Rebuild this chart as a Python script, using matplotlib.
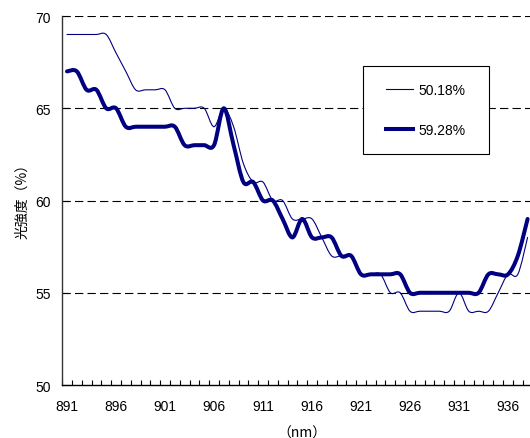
import numpy as np
import matplotlib
matplotlib.use("Agg")
import matplotlib.pyplot as plt
from matplotlib.path import Path
from matplotlib.patches import PathPatch, Rectangle
from matplotlib.lines import Line2D
from matplotlib.ticker import MultipleLocator

plt.rcParams['font.family'] = ['Liberation Sans', 'Noto Sans CJK JP', 'DejaVu Sans']
plt.rcParams['lines.scale_dashes'] = False
cjk = ['Noto Sans CJK JP', 'DejaVu Sans']

# wavelength (nm) and light intensity (%) for the two samples
wavelength = np.arange(891, 939)
intensity_5018 = [69, 69, 69, 69, 69, 68, 67, 66, 66, 66, 66, 65, 65, 65, 65, 64,
                  65, 64, 62, 61, 61, 60, 60, 59, 59, 59, 58, 57, 57, 57, 56, 56,
                  56, 55, 55, 54, 54, 54, 54, 54, 55, 54, 54, 54, 55, 56, 56, 58]
intensity_5928 = [67, 67, 66, 66, 65, 65, 64, 64, 64, 64, 64, 64, 63, 63, 63, 63,
                  65, 63, 61, 61, 60, 60, 59, 58, 59, 58, 58, 58, 57, 57, 56, 56,
                  56, 56, 56, 55, 55, 55, 55, 55, 55, 55, 55, 56, 56, 56, 57, 59]
labels = ['50.18%', '59.28%']
y_ticks = [50, 55, 60, 65, 70]
x_labels = list(range(891, 937, 5))


def smooth_path(xs, ys):
    # cubic bezier through every point (catmull-rom style tangents)
    pts = np.column_stack([xs, ys]).astype(float)
    ext = np.vstack([pts[0], pts, pts[-1]])
    verts = [pts[0]]
    codes = [Path.MOVETO]
    for i in range(len(pts) - 1):
        p0, p1, p2, p3 = ext[i], ext[i + 1], ext[i + 2], ext[i + 3]
        verts += [p1 + (p2 - p0) / 6, p2 - (p3 - p1) / 6, p2]
        codes += [Path.CURVE4] * 3
    return Path(verts, codes)


fig = plt.figure(figsize=(5.30, 4.39), dpi=100)
ax = fig.add_axes([0.1172, 0.1207, 0.8875, 0.8405])

navy = '#000080'
for ys, lw in [(intensity_5018, 0.8), (intensity_5928, 2.9)]:
    ax.add_patch(PathPatch(smooth_path(wavelength, ys), fill=False,
                           edgecolor=navy, lw=lw, capstyle='round',
                           joinstyle='round', zorder=3))

ax.set_xlim(890.5, 938.5)
ax.set_ylim(50, 70)

for v in y_ticks[1:]:
    ax.axhline(v, color='black', lw=0.8, dashes=(6, 3), zorder=1)

for s in ['top', 'right']:
    ax.spines[s].set_visible(False)
ax.spines['left'].set_color('#333333')
ax.spines['left'].set_linewidth(1.0)
ax.spines['bottom'].set_linewidth(1.0)

ax.set_yticks(y_ticks)
ax.tick_params(axis='y', direction='in', length=5, width=0.8, pad=8, labelsize=10)
ax.set_xticks(x_labels)
ax.xaxis.set_minor_locator(MultipleLocator(1, offset=0.5))
ax.tick_params(axis='x', which='major', length=0, pad=10, labelsize=10)
ax.tick_params(axis='x', which='minor', direction='in', length=3.5, width=0.8)

ax.set_xlabel('（nm）', fontsize=10, family=cjk, va='center')
ax.xaxis.set_label_coords(0.51, -0.128)
ax.set_ylabel('光強度（%）', fontsize=10, family=cjk, va='center')
ax.yaxis.set_label_coords(-0.085, 0.51)

# legend: plain entries inside a separately drawn white box
ax.add_patch(Rectangle((0.6397, 0.626), 0.2678, 0.2385, transform=ax.transAxes,
                       facecolor='white', edgecolor='black', lw=0.8, zorder=4))
handles = [Line2D([], [], color=navy, lw=0.8), Line2D([], [], color=navy, lw=2.9)]
leg = ax.legend(handles, labels, loc='center', bbox_to_anchor=(0.7736, 0.7453),
                borderaxespad=0, borderpad=0, fontsize=10, frameon=False,
                labelspacing=1.85, handlelength=1.95, handletextpad=0.4)
leg.set_zorder(5)

fig.savefig('out.png', dpi=100)
